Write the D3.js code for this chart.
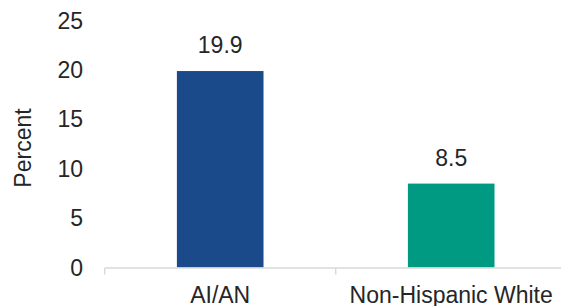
<!DOCTYPE html>
<html><head><meta charset="utf-8">
<script src="https://cdn.jsdelivr.net/npm/d3@7"></script>
<style>body{margin:0;background:#fff}svg{display:block}text{font-family:"Liberation Sans",Arial,sans-serif;fill:#262626}</style>
</head><body>
<svg id="c" width="561" height="306"></svg>
<script>
const categories = ["AI/AN", "Non-Hispanic White"];
const values = [19.9, 8.5];
const colors = ["#1B4A8A", "#009A83"];
const yTicks = [0, 5, 10, 15, 20, 25];
const yLabel = "Percent";

const svg = d3.select("#c");
const x = d3.scaleBand().domain(categories).range([104.7, 566.7]).paddingInner(0.625).paddingOuter(0.3125);
const y = d3.scaleLinear().domain([0, 25]).range([267.5, 20.7]);
const fs = 23;

// bars
svg.selectAll("rect.bar").data(values).enter().append("rect")
  .attr("x", (d, i) => x(categories[i]))
  .attr("width", x.bandwidth())
  .attr("y", d => y(d))
  .attr("height", d => y(0) - y(d))
  .attr("fill", (d, i) => colors[i]);

// value labels
svg.selectAll("text.val").data(values).enter().append("text")
  .attr("x", (d, i) => x(categories[i]) + x.bandwidth() / 2)
  .attr("y", d => y(d) - 18)
  .attr("text-anchor", "middle")
  .attr("font-size", fs)
  .text(d => d.toFixed(1));

// y tick labels
svg.selectAll("text.yt").data(yTicks).enter().append("text")
  .attr("x", 83)
  .attr("y", d => y(d))
  .attr("dy", "0.35em")
  .attr("text-anchor", "end")
  .attr("font-size", fs)
  .text(d => d);

// x axis line & boundary ticks
const step = x.step();
const x0 = 104.7;
svg.append("line").attr("x1", x0).attr("x2", x0 + step * categories.length)
  .attr("y1", y(0) + 0.5).attr("y2", y(0) + 0.5)
  .attr("stroke", "#d9d9d9").attr("stroke-width", 1.5);
d3.range(categories.length + 1).forEach(i => {
  svg.append("line").attr("x1", x0 + step * i).attr("x2", x0 + step * i)
    .attr("y1", y(0) + 0.5).attr("y2", y(0) + 7)
    .attr("stroke", "#d9d9d9").attr("stroke-width", 1.5);
});

// x category labels
svg.selectAll("text.xt").data(categories).enter().append("text")
  .attr("x", d => x(d) + x.bandwidth() / 2)
  .attr("y", 303)
  .attr("text-anchor", "middle")
  .attr("font-size", fs)
  .text(d => d);

// y axis title
svg.append("text")
  .attr("transform", "translate(31,148) rotate(-90)")
  .attr("text-anchor", "middle")
  .attr("font-size", fs)
  .text(yLabel);
</script>
</body></html>
